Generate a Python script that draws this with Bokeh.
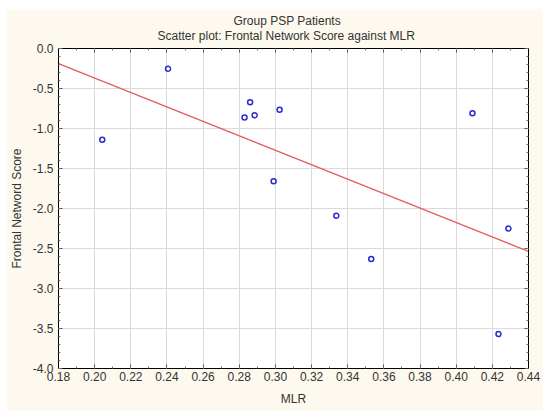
import numpy as np
from bokeh.plotting import figure
from bokeh.models import (Range1d, LinearAxis, SingleIntervalTicker, Title, NumeralTickFormatter, Spacer)
from bokeh.layouts import column, row
from bokeh.embed import file_html
from bokeh.resources import INLINE

# Data
mlr = [0.2042, 0.2406, 0.2860, 0.2829, 0.2885, 0.3023, 0.2990, 0.3337, 0.3530, 0.4090, 0.4234, 0.4289]
frontal_score = [-1.14, -0.254, -0.671, -0.862, -0.834, -0.766, -1.659, -2.09, -2.63, -0.809, -3.57, -2.25]

title_line1 = "Group PSP Patients"
title_line2 = "Scatter plot: Frontal Network Score against MLR"
x_label = "MLR"
y_label = "Frontal Netword Score"

FONT = "Liberation Sans"
CREAM = "#FDF9EE"
TXT = "#333333"

p = figure(width=537, height=403, output_backend="svg", toolbar_location=None,
           x_range=Range1d(0.18, 0.44), y_range=Range1d(-4.0, 0.0),
           min_border_left=50, min_border_right=15, min_border_top=40, min_border_bottom=43,
           background_fill_color="white", border_fill_color=CREAM)
p.outline_line_color = "black"
p.outline_line_width = 1

xt = SingleIntervalTicker(interval=0.02, num_minor_ticks=2)
yt = SingleIntervalTicker(interval=0.5, num_minor_ticks=5)
p.xaxis.ticker = xt
p.yaxis.ticker = yt
p.xgrid.ticker = xt
p.ygrid.ticker = yt

for ax in (p.xaxis[0], p.yaxis[0]):
    ax.major_tick_in = 4
    ax.major_tick_out = 0
    ax.minor_tick_in = 2
    ax.minor_tick_out = 0
    ax.axis_line_color = "black"
    ax.major_tick_line_color = "#555555"
    ax.minor_tick_line_color = "#777777"
    ax.major_label_text_font = FONT
    ax.major_label_text_font_size = "12px"
    ax.major_label_text_color = TXT
    ax.axis_label_text_font = FONT
    ax.axis_label_text_font_size = "12px"
    ax.axis_label_text_font_style = "normal"
    ax.axis_label_text_color = TXT

p.xaxis.formatter = NumeralTickFormatter(format="0.00")
p.yaxis.formatter = NumeralTickFormatter(format="0.0")
p.xaxis.axis_label = x_label
p.yaxis.axis_label = y_label
p.xaxis.major_label_standoff = 3
p.xaxis.axis_label_standoff = 8
p.yaxis.major_label_standoff = 5
p.yaxis.axis_label_standoff = 6

# extra axes on the right and top with inward ticks only
rax = LinearAxis(ticker=SingleIntervalTicker(interval=0.5, num_minor_ticks=5),
                 major_tick_in=4, major_tick_out=0, minor_tick_in=2, minor_tick_out=0,
                 major_label_text_font_size="1px", major_label_text_alpha=0,
                 axis_line_color="black", major_tick_line_color="#555555",
                 minor_tick_line_color="#777777", major_label_standoff=0)
p.add_layout(rax, "right")
tax = LinearAxis(ticker=SingleIntervalTicker(interval=0.02, num_minor_ticks=2),
                 major_tick_in=4, major_tick_out=0, minor_tick_in=2, minor_tick_out=0,
                 major_label_text_font_size="1px", major_label_text_alpha=0,
                 axis_line_color="black", major_tick_line_color="#555555",
                 minor_tick_line_color="#777777", major_label_standoff=0)
p.add_layout(tax, "above")

p.grid.grid_line_color = "#DADADA"
p.grid.grid_line_width = 1

# regression line from the data
slope, intercept = np.polyfit(np.array(mlr), np.array(frontal_score), 1)
xl = np.array([0.18, 0.44])
p.line(xl, intercept + slope * xl, line_color="#E8605A", line_width=1.5)

p.scatter(mlr, frontal_score, marker="circle", size=5, fill_color=None,
          line_color="#2B2BCF", line_width=1.5)

# small blank title as a spacer between the frame and the two title lines
p.add_layout(Title(text=" ", text_font=FONT, text_font_size="4px", standoff=0), "above")
p.add_layout(Title(text=title_line2, text_font=FONT, text_font_size="12px", text_font_style="normal",
                   text_color=TXT, align="left", offset=99, standoff=-2), "above")
p.add_layout(Title(text=title_line1, text_font=FONT, text_font_size="12px", text_font_style="normal",
                   text_color=TXT, align="left", offset=175, standoff=0), "above")

layout = column(Spacer(height=8), row(Spacer(width=6), p))
open("out.html", "w").write(file_html(layout, INLINE))
